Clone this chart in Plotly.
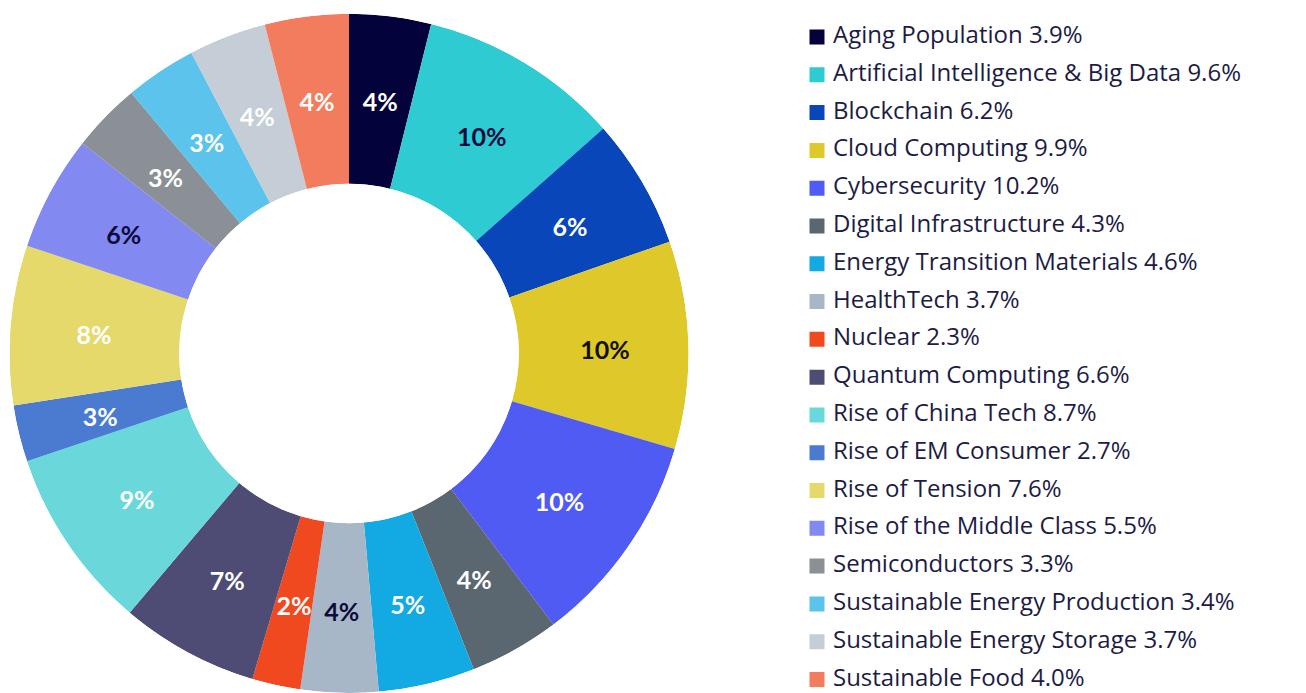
import plotly.graph_objects as go

categories = [
    "Aging Population", "Artificial Intelligence & Big Data", "Blockchain",
    "Cloud Computing", "Cybersecurity", "Digital Infrastructure",
    "Energy Transition Materials", "HealthTech", "Nuclear", "Quantum Computing",
    "Rise of China Tech", "Rise of EM Consumer", "Rise of Tension",
    "Rise of the Middle Class", "Semiconductors", "Sustainable Energy Production",
    "Sustainable Energy Storage", "Sustainable Food",
]
weights = [3.9, 9.6, 6.2, 9.9, 10.2, 4.3, 4.6, 3.7, 2.3, 6.6, 8.7, 2.7, 7.6, 5.5, 3.3, 3.4, 3.7, 4.0]
colors = [
    "#03023a", "#2ecbd3", "#0846ba", "#dfc82a", "#4f5bf2", "#5b6770",
    "#13a9e3", "#a8b7c7", "#f0481f", "#4e4c74", "#6ad8db", "#4a7bd1",
    "#e6d96c", "#8289f1", "#8a9095", "#5bc3ec", "#c5cdd6", "#f37c5f",
]
label_colors = [
    "white", "#0b0b3b", "white", "#111111", "white", "white",
    "white", "#0b0b3b", "white", "white", "white", "white",
    "white", "#0b0b3b", "white", "white", "white", "white",
]

W, H = 1306, 693

# angular extent of each slice (degrees, clockwise from 12 o'clock)
total = sum(weights)
widths = [w / total * 360 for w in weights]
mids = []
acc = 0.0
for wd in widths:
    mids.append(acc + wd / 2)
    acc += wd
pct_text = [f"{int(w + 0.5)}%" for w in weights]

fig = go.Figure()

fig.add_trace(go.Barpolar(
    theta=mids,
    width=widths,
    r=[1] * len(weights),
    base=0,
    marker=dict(color=colors, line=dict(width=0)),
    customdata=categories,
    hovertemplate="%{customdata}<extra></extra>",
    showlegend=False,
    subplot="polar",
))
# slice labels on an overlaid polar subplot (same angles)
fig.add_trace(go.Scatterpolar(
    theta=mids,
    r=[0.7665] * len(weights),
    mode="text",
    text=pct_text,
    textposition="middle center",
    textfont=dict(family="Lato", size=25, color=label_colors, weight="bold"),
    showlegend=False,
    hoverinfo="skip",
    subplot="polar2",
    cliponaxis=False,
))

# legend rows built as a scatter on a hidden axis
rows = list(range(len(categories)))
legend_text = [f"{c} {w:.1f}%" for c, w in zip(categories, weights)]
x0 = 0.6
span = 1 - x0
fig.add_trace(go.Scatter(
    x=[(817 / W - x0) / span] * len(rows),
    y=rows,
    mode="markers",
    marker=dict(symbol="square", size=15, color=colors, line=dict(width=0)),
    xaxis="x", yaxis="y", showlegend=False, hoverinfo="skip",
))
fig.add_trace(go.Scatter(
    x=[(833 / W - x0) / span] * len(rows),
    y=rows,
    mode="text",
    text=legend_text,
    textposition="middle right",
    textfont=dict(family="Open Sans", size=24, color="#1c1c44"),
    xaxis="x", yaxis="y", showlegend=False, hoverinfo="skip",
    cliponaxis=False,
))

fig.update_layout(
    width=W, height=H,
    margin=dict(l=0, r=0, t=0, b=0),
    paper_bgcolor="white", plot_bgcolor="white",
    polar=dict(
        domain=dict(x=[9 / W, 689 / W], y=[0.0, 0.98]),
        hole=0.5,
        bgcolor="rgba(0,0,0,0)",
        radialaxis=dict(visible=False, range=[0, 1]),
        angularaxis=dict(visible=False, rotation=90, direction="clockwise"),
        bargap=0,
    ),
    polar2=dict(
        domain=dict(x=[9 / W, 689 / W], y=[0.0, 0.96392]),
        hole=0,
        bgcolor="rgba(0,0,0,0)",
        radialaxis=dict(visible=False, range=[0, 1]),
        angularaxis=dict(visible=False, rotation=90, direction="clockwise"),
    ),
    xaxis=dict(domain=[x0, 1], range=[0, 1], visible=False, fixedrange=True),
    yaxis=dict(domain=[0, 1], range=[17.357, -0.979], visible=False, fixedrange=True),
)

fig.write_html("out.html", config={"displayModeBar": False},
               post_script="document.body.style.margin='0';")
